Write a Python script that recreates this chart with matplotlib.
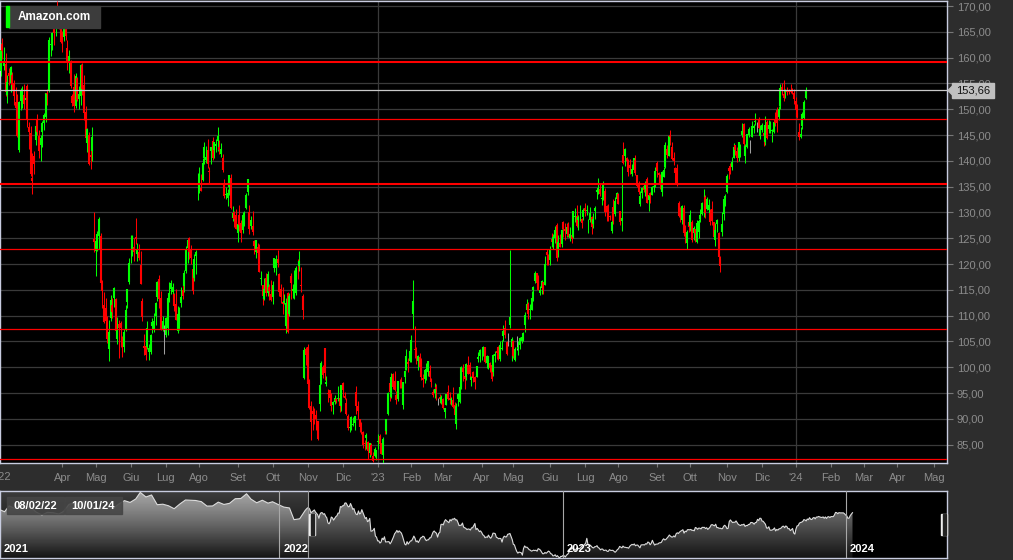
import numpy as np
import pandas as pd
import matplotlib
matplotlib.use("Agg")
import matplotlib.pyplot as plt
from matplotlib.colors import LinearSegmentedColormap
from matplotlib.patches import Rectangle, Polygon
import matplotlib.transforms as mtrans

plt.rcParams['font.family'] = ['Liberation Sans', 'DejaVu Sans']

# ---------------- data (daily OHLC, 08/02/22 .. 10/01/24) ----------------
opens = [
 157.5,162.6,158.4,158.8,152.8,157.1,155.1,156.6,155.0,151.4,152.5,142.1,151.6,151.5,
 152.7,151.8,154.5,146.5,145.4,136.6,141.0,144.0,148.0,144.8,143.1,145.5,147.3,148.5,153.2,153.6,162.4,162.9,165.5,165.6,170.0,168.8,166.0,
 164.2,164.0,168.0,161.8,159.3,159.4,152.5,154.3,150.7,156.0,152.0,152.6,158.6,154.6,149.5,143.5,145.0,141.2,142.0,124.8,
 122.5,124.0,125.5,125.5,115.6,112.0,111.5,107.5,103.5,109.5,112.1,113.4,113.2,105.5,108.3,108.6,104.5,104.0,107.5,112.7,116.6,
 122.3,121.7,123.4,125.2,122.0,122.3,119.9,112.8,104.2,104.2,103.9,103.0,103.0,108.0,107.2,110.0,113.6,117.1,113.5,107.4,106.2,
 106.3,107.6,113.9,115.2,114.6,114.1,112.2,107.0,108.2,112.5,115.0,115.7,118.6,123.2,125.0,122.7,119.0,117.3,121.6,134.9,
 135.0,134.7,136.2,140.6,140.1,142.1,138.1,142.0,143.8,142.1,142.8,143.9,142.7,141.3,140.6,135.5,133.4,132.8,134.9,136.6,128.9,130.0,129.5,
 126.0,129.5,127.9,126.6,127.7,130.9,133.9,130.1,127.4,127.4,124.4,122.4,123.4,122.5,117.1,116.0,113.3,117.2,114.4,115.6,114.1,
 113.6,119.3,119.2,121.0,118.0,115.1,112.7,112.5,107.9,114.3,110.4,117.7,114.7,113.9,114.4,119.9,119.7,116.0,113.9,97.9,103.6,
 104.0,97.3,92.5,91.5,91.95,90.8,89.5,92.9,97.9,100.0,103.7,96.8,95.0,95.5,94.4,92.6,93.2,93.8,93.9,94.0,92.5,
 97.0,94.5,93.1,90.5,88.3,89.2,88.9,89.2,95.2,92.5,89.9,88.3,87.5,85.3,86.2,85.5,83.3,85.0,82.8,82.9,83.1,
 85.5,86.6,85.3,83.0,87.5,87.6,90.9,96.9,94.2,98.7,97.3,94.7,93.9,97.6,96.9,92.6,98.2,99.5,101.1,101.2,
 102.5,110.3,103.5,102.9,101.2,102.0,101.3,97.9,97.8,98.4,99.1,99.2,97.8,95.3,95.1,96.1,93.5,94.3,93.1,
 93.9,91.4,92.7,95.2,94.1,93.6,93.7,92.7,89.0,93.8,93.2,96.1,99.8,98.4,98.1,100.5,100.4,97.6,99.1,98.1,98.1,101.6,102.2,
 102.3,102.8,103.9,100.8,101.0,100.8,100.4,99.0,102.1,103.2,104.0,101.6,103.5,106.1,107.7,104.9,105.0,108.2,104.0,
 105.0,101.5,103.7,103.6,104.3,105.0,105.2,108.1,111.0,112.2,111.1,111.0,114.9,116.7,118.2,116.8,114.3,115.4,116.6,116.0,122.4,121.5,
 120.7,124.9,123.4,125.0,127.6,123.0,124.1,123.9,128.1,126.7,125.9,127.7,125.0,125.6,125.3,129.1,129.3,128.6,128.9,128.8,129.1,
 130.8,130.2,128.3,128.6,129.1,127.8,130.3,134.0,134.1,134.6,132.7,133.4,134.1,131.3,130.3,129.3,126.5,131.0,129.7,132.7,
 133.6,130.2,128.4,141.1,141.0,140.6,140.0,139.1,137.4,138.3,140.1,137.2,135.5,131.6,133.7,135.1,134.5,136.4,132.5,133.8,133.4,134.9,135.1,
 139.5,137.7,136.3,133.9,136.9,138.8,142.3,141.0,145.1,142.7,140.5,138.7,138.6,131.9,130.3,128.5,130.9,125.8,124.0,128.2,
 127.3,128.1,126.1,126.7,124.2,126.2,128.8,129.7,132.2,133.0,130.7,130.4,129.9,130.6,128.1,124.6,127.7,126.0,121.0,126.2,129.7,132.8,
 134.0,138.7,139.0,138.8,140.6,143.0,142.0,140.5,142.1,145.0,147.1,140.9,142.7,145.1,143.9,144.6,146.4,147.5,147.0,147.9,144.8,
 146.0,145.3,143.6,147.6,146.2,145.5,145.7,145.5,148.1,149.9,148.4,150.6,154.4,152.9,153.3,153.8,153.6,153.6,153.7,153.1,
 151.5,149.2,145.6,144.7,146.7,148.3,152.1,
]
highs = [
 162.8,163.8,162.0,160.9,156.6,158.0,158.4,157.2,155.6,154.4,152.9,151.6,154.2,154.5,
 154.8,153.0,154.9,147.5,146.8,141.5,142.0,147.5,149.0,145.9,145.0,147.8,149.3,153.2,154.0,164.0,163.5,165.0,166.2,169.0,171.0,169.5,167.0,
 165.2,168.5,168.3,163.4,161.5,159.6,153.0,156.9,157.0,156.2,154.5,158.7,159.0,156.6,150.6,146.4,145.6,143.0,146.6,130.0,
 125.5,126.5,129.1,126.0,117.0,114.5,113.5,110.0,109.2,114.0,113.5,115.6,113.5,109.8,109.1,108.9,106.0,107.5,112.0,115.2,121.1,
 125.6,125.6,125.0,128.9,124.1,123.8,122.6,113.5,106.5,104.9,109.0,104.6,106.5,109.6,110.5,112.6,116.7,117.9,114.8,110.0,108.2,
 109.8,114.0,116.5,116.9,116.4,114.3,115.1,111.8,111.6,115.6,117.3,118.9,123.5,124.7,125.2,123.6,119.6,121.9,122.8,137.6,
 138.8,137.4,140.5,143.6,142.9,144.2,138.9,142.7,144.6,143.6,144.3,146.6,144.1,143.4,141.4,136.4,135.0,134.6,137.3,137.4,131.2,130.3,130.6,
 128.0,131.4,128.6,130.0,130.2,133.8,136.5,131.5,129.4,130.3,124.6,124.7,124.1,123.8,118.7,116.0,117.3,118.3,118.7,116.1,116.9,
 116.7,121.2,121.7,122.8,118.2,116.2,115.5,114.1,113.4,114.5,114.3,118.3,116.2,118.8,119.6,121.0,122.5,119.4,114.1,104.0,103.9,
 104.6,97.7,93.5,92.4,92.1,91.7,89.6,98.7,101.2,100.4,103.8,98.4,95.7,95.5,95.0,93.4,94.6,94.1,96.4,94.4,96.5,
 97.2,95.3,94.1,91.0,89.8,90.6,90.3,90.6,96.3,93.5,89.9,89.4,87.6,86.0,87.2,85.7,85.4,85.4,83.5,84.6,84.0,
 87.0,87.0,85.4,86.4,89.5,90.0,95.3,97.2,98.9,98.9,99.3,95.4,97.4,97.8,98.1,97.2,99.5,103.5,101.7,103.4,
 106.2,117.0,108.0,103.9,102.4,102.7,101.8,98.6,99.7,100.9,101.2,100.5,98.0,95.8,97.0,96.7,94.1,94.8,94.7,
 94.1,92.2,94.9,96.6,95.2,94.2,96.1,93.2,93.0,95.1,96.7,100.3,100.7,98.5,100.8,102.1,101.1,98.3,99.3,98.4,100.3,103.0,103.5,
 103.3,104.2,103.9,102.4,102.2,101.0,100.5,102.6,103.2,103.7,104.2,105.0,105.3,108.2,109.2,105.0,106.6,122.8,105.9,
 105.2,103.9,106.0,105.0,105.8,106.0,106.8,110.7,113.3,112.6,112.3,114.8,115.8,118.6,118.3,117.8,115.8,117.0,116.6,121.5,122.9,122.0,
 123.5,126.0,125.8,127.4,127.9,125.6,125.8,126.8,128.4,128.0,127.9,128.1,127.2,126.7,130.3,130.8,131.5,129.6,131.5,128.9,130.9,
 131.9,131.4,128.7,131.0,129.3,129.8,131.3,134.7,136.6,135.6,133.9,136.0,134.8,131.4,131.7,129.6,129.1,132.6,133.0,133.9,
 133.7,130.2,139.0,143.6,142.5,140.8,140.3,140.4,139.3,140.6,141.1,137.3,136.1,134.1,135.0,135.7,136.0,136.8,133.8,134.0,135.1,135.7,138.8,
 140.0,137.8,137.5,138.0,138.9,143.6,143.0,145.0,145.9,143.6,141.8,138.8,139.4,132.2,131.1,131.5,131.4,127.5,126.6,129.2,
 130.5,128.5,127.4,126.7,128.5,128.8,130.7,132.1,134.5,133.3,133.0,132.6,130.7,132.2,128.2,127.9,128.8,126.3,121.6,130.0,133.0,133.6,
 137.4,138.8,139.5,140.7,143.4,143.1,142.7,143.7,143.2,147.3,147.3,143.3,145.2,146.6,144.1,147.7,147.2,149.3,147.6,148.5,146.9,
 147.3,145.4,148.6,147.9,147.9,147.8,146.2,147.5,149.5,150.5,150.6,154.9,155.1,155.6,154.0,154.4,154.0,154.8,154.1,153.9,
 152.4,151.1,147.4,146.6,149.4,151.7,154.4,
]
lows = [
 156.5,159.8,157.6,152.6,151.2,154.7,153.4,153.8,150.9,148.2,144.6,141.7,149.8,150.2,
 150.1,148.9,146.5,142.2,137.0,133.6,137.5,143.0,145.0,140.5,140.0,142.6,146.0,147.6,150.8,153.4,160.3,161.5,162.5,164.2,166.5,165.5,162.8,
 161.0,163.2,163.5,157.6,157.0,154.1,150.6,149.5,150.3,151.5,150.0,150.8,152.8,148.0,144.1,141.7,139.2,138.4,140.0,122.4,
 117.7,122.5,123.0,115.0,111.5,108.6,106.0,104.7,101.3,109.0,109.5,111.6,106.6,104.5,101.7,104.0,102.0,103.0,107.0,111.5,116.2,
 120.3,121.5,120.6,123.8,120.6,120.7,116.1,109.0,102.4,101.4,103.5,101.4,102.6,106.7,106.8,108.2,112.8,111.5,107.3,107.0,102.5,
 105.8,106.3,112.6,114.2,113.9,110.9,109.2,106.6,107.3,111.6,113.2,114.6,118.3,120.3,121.0,120.0,114.2,116.7,118.1,132.4,
 133.8,134.1,136.0,139.4,139.6,138.7,135.6,139.3,140.1,140.6,141.8,142.0,141.4,140.8,137.9,132.8,132.7,131.2,133.3,130.6,128.4,127.1,126.7,
 124.2,126.4,124.3,126.0,127.3,130.6,133.3,125.8,126.7,125.7,121.9,121.1,120.5,118.5,115.9,112.1,113.0,113.8,113.8,113.1,112.8,
 112.3,118.4,117.8,119.4,113.9,112.4,110.4,112.2,106.7,106.6,109.9,113.2,113.4,113.2,114.0,117.1,118.6,114.6,109.4,97.7,100.5,
 96.1,92.0,85.9,87.9,89.0,87.9,86.0,91.6,96.8,97.9,97.6,96.3,93.3,92.8,91.5,90.9,92.8,93.1,93.4,91.4,91.6,
 94.3,93.8,90.8,87.9,87.4,87.9,88.6,87.9,91.0,89.9,87.5,87.0,84.3,84.0,84.2,82.3,82.7,83.0,81.7,82.7,82.1,
 84.2,83.4,83.1,81.4,87.0,87.1,90.8,93.4,94.1,95.7,95.4,92.9,93.4,95.9,96.0,91.9,96.9,99.5,99.0,101.0,
 101.0,107.5,101.8,100.7,99.4,98.8,97.6,96.2,96.9,97.5,98.4,97.8,96.1,94.3,94.0,93.7,92.7,93.1,92.9,
 91.9,90.2,92.6,93.7,92.8,92.7,92.2,89.7,88.1,92.5,93.1,95.8,97.4,95.7,97.5,98.6,98.0,96.4,97.1,95.7,98.1,101.0,101.1,
 101.4,102.1,100.8,99.8,99.6,99.0,97.4,98.4,101.1,101.6,101.5,101.2,103.3,105.1,105.6,102.4,104.1,107.6,101.2,
 101.8,101.2,103.3,102.3,103.6,104.7,105.1,106.9,110.5,109.3,109.3,111.0,112.8,116.3,115.7,114.9,114.0,114.2,114.2,116.0,119.9,119.8,
 119.9,123.3,123.0,124.1,120.6,121.4,123.3,123.4,125.2,124.6,125.2,125.3,124.5,124.0,125.1,128.2,127.1,126.6,128.4,127.0,128.6,
 129.3,129.6,126.0,128.1,125.9,126.9,128.7,132.7,133.6,133.2,131.4,132.5,129.3,128.4,128.4,128.5,126.1,127.7,129.3,132.4,
 131.6,127.6,126.4,139.3,139.0,138.4,137.1,137.5,137.0,137.8,137.2,135.0,133.5,131.2,132.8,133.9,133.2,131.8,130.2,131.9,133.3,133.9,135.0,
 136.9,135.8,134.6,133.2,136.8,138.6,140.6,140.9,143.0,140.1,139.2,135.6,135.2,129.2,128.1,127.8,125.5,124.1,123.0,126.3,
 126.5,124.3,124.7,124.3,124.1,125.0,128.1,129.6,129.2,129.0,130.4,128.7,127.5,127.5,124.9,123.5,126.3,119.9,118.4,125.5,128.6,131.2,
 133.7,136.5,137.5,138.2,140.5,141.2,139.8,139.9,140.7,144.7,142.6,139.5,142.5,144.7,141.5,144.6,145.3,146.9,145.5,146.0,144.3,
 145.6,142.8,143.1,144.3,145.3,145.4,143.6,145.3,146.8,145.5,147.9,150.1,152.7,151.6,152.1,152.7,153.0,153.1,153.0,151.0,
 148.4,148.3,144.1,144.5,146.2,148.2,151.9,
]
closes = [
 161.4,161.2,159.0,153.3,155.2,156.5,158.1,154.6,152.6,150.2,144.8,151.4,153.8,153.6,
 151.1,152.1,147.9,145.6,137.5,136.0,139.3,146.8,145.5,141.9,144.5,147.4,148.9,153.1,152.9,163.4,162.6,164.7,164.8,169.0,169.3,166.3,163.0,
 163.6,168.4,164.1,159.0,160.3,154.5,151.2,150.6,156.5,151.7,152.9,158.5,153.9,149.3,144.4,146.1,139.4,140.8,144.6,124.3,
 124.5,125.9,128.8,116.4,114.8,108.8,108.9,105.4,106.9,113.1,110.8,115.4,107.1,107.3,107.6,107.6,104.1,106.8,111.1,115.1,120.2,
 122.4,125.5,122.3,124.8,123.0,121.2,116.2,109.7,103.7,102.3,107.7,103.7,106.2,108.7,109.0,112.4,116.5,113.2,107.4,108.9,106.2,
 109.6,113.5,114.3,116.3,115.5,111.8,109.2,110.4,110.6,113.6,113.8,118.2,122.8,124.6,122.4,121.1,114.8,121.0,122.3,135.0,
 135.4,134.2,139.5,142.6,140.8,139.4,137.8,142.7,140.6,143.6,143.2,144.8,142.1,142.3,138.2,133.2,133.6,133.8,137.3,130.8,129.8,128.7,126.8,
 127.8,127.5,126.1,129.5,129.8,133.3,136.5,126.8,128.6,126.3,123.5,124.7,122.2,118.5,117.3,113.8,115.2,114.4,118.0,114.8,113.0,
 115.9,121.1,121.0,120.3,114.6,113.7,112.2,112.9,112.5,106.9,113.8,116.4,115.1,115.3,119.3,119.8,120.6,115.7,111.0,103.4,102.4,
 96.8,92.1,89.3,91.0,90.5,90.0,86.1,96.6,100.8,98.5,98.9,97.1,94.9,94.1,92.5,93.2,94.1,93.4,94.0,92.4,96.5,
 95.5,94.1,91.0,88.3,88.5,90.4,89.1,90.6,92.5,91.6,88.5,87.9,84.9,85.2,86.8,83.8,85.3,83.0,81.8,84.2,84.0,
 85.8,85.1,83.1,86.1,87.4,89.9,95.1,95.3,98.1,96.1,95.5,93.7,97.3,97.5,96.3,97.2,99.2,102.2,100.6,103.1,
 105.2,112.9,103.4,102.2,102.1,100.1,98.2,97.6,99.5,99.7,101.2,98.2,97.2,94.6,95.8,95.8,93.5,93.8,94.2,
 92.2,92.1,94.9,93.8,93.6,93.9,92.3,90.7,92.4,94.9,96.2,100.0,99.0,97.7,100.6,98.7,98.7,98.1,98.0,97.2,100.3,102.0,103.3,
 102.4,104.0,101.1,102.1,102.2,99.9,97.8,102.4,102.5,102.7,102.3,104.3,103.8,107.0,106.2,102.6,105.0,109.8,105.5,
 102.1,103.6,103.7,104.0,105.7,105.8,106.6,110.2,112.2,110.3,111.2,113.4,115.5,118.2,116.3,115.0,115.0,116.8,115.0,120.1,121.7,120.6,
 122.8,124.3,125.3,126.6,121.2,124.3,123.4,126.6,126.7,126.4,127.1,125.5,125.8,124.8,130.2,129.3,127.3,129.2,129.0,127.9,130.4,
 130.2,130.4,128.4,129.8,127.1,128.8,130.8,134.3,134.7,133.6,132.8,135.4,130.0,130.0,128.8,129.1,128.2,128.3,132.2,133.7,
 131.7,128.2,128.9,139.6,142.2,139.9,137.9,138.6,138.4,140.6,137.7,135.1,134.0,133.2,134.7,134.3,135.5,131.8,133.3,133.1,134.9,135.1,138.0,
 138.1,137.3,135.4,137.9,138.2,143.1,141.2,144.9,144.7,140.4,140.0,137.6,135.3,129.3,129.1,131.3,126.0,125.7,126.2,127.1,
 129.5,124.7,127.0,126.0,128.0,128.3,129.5,131.8,132.3,129.8,132.6,131.5,128.1,128.4,125.2,126.6,128.6,121.4,119.6,127.7,132.7,133.1,
 137.0,138.1,138.6,139.7,142.7,142.1,140.6,143.6,142.6,145.8,143.2,142.8,145.2,146.1,143.9,146.7,146.7,147.7,147.0,146.3,146.1,
 147.0,144.8,146.9,144.5,146.9,147.4,145.9,147.5,147.4,147.4,150.0,154.1,153.8,152.1,153.8,153.4,153.4,153.3,153.4,151.9,
 149.9,148.5,144.6,145.2,149.1,151.4,153.7,
]
# weekly closes before the visible window (navigator only)
hist_weeks = pd.date_range('2021-01-08', '2022-02-04', freq='W-FRI')
hist_closes = [
 159.1,155.2,164.6,160.3, 167.3,163.3,162.4,154.6, 150.0,154.3,153.6,151.6,
 155.5,167.0,169.4,170.0,173.4, 164.7,161.1,161.0,161.2, 159.9,167.5,172.9,170.0,
 175.5,186.0,178.7,181.9,166.4, 167.2,164.7,160.0,167.5, 173.9,173.5,173.1,171.3,
 164.2,164.4,170.5,166.8,168.6, 175.9,176.3,183.8,175.2, 169.5,173.5,168.9,171.1,166.7,
 162.6,161.2,142.6,144.0,157.6,
]
last_price = 153.66
red_levels_thick = [159.15, 135.51]
red_levels_thin = [148.1, 122.92, 107.42, 82.17]
title = "Amazon.com"
first_date_lbl, last_date_lbl = "08/02/22", "10/01/24"
month_names = ['Gen', 'Feb', 'Mar', 'Apr', 'Mag', 'Giu', 'Lug', 'Ago', 'Set', 'Ott', 'Nov', 'Dic']

assert len(opens) == len(highs) == len(lows) == len(closes), (len(opens), len(highs), len(lows), len(closes))
assert len(hist_closes) == len(hist_weeks), (len(hist_closes), len(hist_weeks))

# ---------------- trading calendar ----------------
holidays = ['2021-01-01', '2021-01-18', '2021-02-15', '2021-04-02', '2021-05-31', '2021-07-05', '2021-09-06',
            '2021-11-25', '2021-12-24', '2022-01-17', '2022-02-21', '2022-04-15', '2022-05-30', '2022-06-20',
            '2022-07-04', '2022-09-05', '2022-11-24', '2022-12-26', '2023-01-02', '2023-01-16', '2023-02-20',
            '2023-04-07', '2023-05-29', '2023-06-19', '2023-07-04', '2023-09-04', '2023-11-23', '2023-12-25',
            '2024-01-01', '2024-01-15', '2024-02-19', '2024-03-29', '2024-05-27', '2024-06-19']
cal = pd.bdate_range('2021-01-04', '2024-06-28', freq='C', holidays=holidays)
start = cal.get_loc(pd.Timestamp('2022-02-08'))
n = len(closes)

W, H = 1013, 560
fig = plt.figure(figsize=(W / 100, H / 100), dpi=100, facecolor='#2d2d2d')


def frect(x0, y0, x1, y1):
    return [x0 / W, 1 - y1 / H, (x1 - x0) / W, (y1 - y0) / H]


BORDER = '#c8cce0'
GRID = '#3a3a3a'
LABEL = '#8c8c8c'

# ---------------- main price chart ----------------
ax = fig.add_axes(frect(0, 1, 947, 463))
ax.set_facecolor('black')
ax.set_xlim(-0.3, 566.7)
ax.set_ylim(81.45, 170.97)

yt = np.arange(85, 171, 5)
for v in yt:
    ax.axhline(v, color=GRID, lw=0.9, zorder=1)

tick_pos, tick_lab, year_pos = [], [], []
for per in pd.period_range('2022-04', '2024-05', freq='M'):
    first = cal[(cal.year == per.year) & (cal.month == per.month)][0]
    p = cal.get_loc(first) - start
    tick_pos.append(p)
    if per.month == 1:
        tick_lab.append("'%02d" % (per.year % 100))
        year_pos.append(p)
    else:
        tick_lab.append(month_names[per.month - 1])
for p in year_pos:
    ax.axvline(p, color=GRID, lw=0.9, zorder=1)

o, h, l, c = map(np.asarray, (opens, highs, lows, closes))
x = np.arange(n)
col = np.where(c > o, '#00ff00', np.where(c < o, '#ff0000', '#a0a0a0'))
ax.vlines(x, l, h, colors=col, lw=0.75, zorder=3)
ax.vlines(x, np.minimum(o, c), np.maximum(o, c), colors=col, lw=1.5, zorder=3)

for v in red_levels_thick:
    ax.axhline(v, color='#ff0000', lw=1.5, zorder=4)
for v in red_levels_thin:
    ax.axhline(v, color='#ff0000', lw=0.9, zorder=4)
ax.axhline(last_price, color='#c8c8c8', lw=0.9, zorder=5)

ax.yaxis.tick_right()
ax.set_yticks(yt)
ax.set_yticklabels([("%.2f" % v).replace('.', ',') for v in yt])
ax.set_xticks(tick_pos)
ax.set_xticklabels(tick_lab)
ax.tick_params(axis='y', length=4, color='#777777', labelcolor=LABEL, labelsize=8, pad=3)
ax.tick_params(axis='x', length=3, color='#777777', labelcolor=LABEL, labelsize=8, pad=4)
for s in ax.spines.values():
    s.set_color(BORDER)
    s.set_linewidth(1)

# ---------------- navigator ----------------
nav = fig.add_axes(frect(0, 491, 947, 558))
nav.set_facecolor('black')
nx0, nx1 = 4.94, 842.6
ny0, ny1 = 81.6, 188.2
nav.set_xlim(nx0, nx1)
nav.set_ylim(ny0, ny1)
nav.set_xticks([])
nav.set_yticks([])
for s in nav.spines.values():
    s.set_color(BORDER)
    s.set_linewidth(1)

hist_idx = cal.searchsorted(hist_weeks, side='right') - 1
gx = np.concatenate([hist_idx, start + x]).astype(float)
gy = np.concatenate([np.asarray(hist_closes), c])

area = nav.fill_between(gx, gy, ny0, facecolor='none', edgecolor='none')
cmap = LinearSegmentedColormap.from_list('nav', ['#141414', '#8e8e8e'])
grad = np.linspace(0, 1, 256).reshape(-1, 1)
im = nav.imshow(grad, extent=[nx0, nx1, ny0, ny1], aspect='auto', cmap=cmap, origin='lower', zorder=1)
im.set_clip_path(area.get_paths()[0], transform=nav.transData)

ov_rgba = np.zeros((256, 1, 4))
ov_rgba[..., :3] = 1.0
ov_rgba[:, 0, 3] = np.linspace(0.0, 0.24, 256)
nav.imshow(ov_rgba, extent=[nx0, start, ny0, ny1], aspect='auto', origin='lower', zorder=2)
nav.plot(gx, gy, color='#dcdcdc', lw=0.8, zorder=3)
nav.axvline(start, color='#9a9a9a', lw=0.8, zorder=4)

blend = mtrans.blended_transform_factory(nav.transData, nav.transAxes)
for yr in (2021, 2022, 2023, 2024):
    g = cal.get_loc(cal[cal.year == yr][0])
    if g > nx0:
        nav.axvline(g, color='#a8a8a8', lw=0.8, zorder=4)
    nav.text(max(g, nx0) + 3.5, 0.13, str(yr), transform=blend, color='white', fontsize=8,
             fontweight='bold', ha='left', va='center', zorder=6)

# ---------------- overlay decorations (pixel coordinates) ----------------
ov = fig.add_axes([0, 0, 1, 1])
ov.set_xlim(0, W)
ov.set_ylim(H, 0)
ov.axis('off')
ov.patch.set_alpha(0)

ov.add_patch(Rectangle((9, 6), 91, 22, color='#3c3c3c'))
ov.add_patch(Rectangle((6, 6), 3, 21, color='#00ff00'))
ov.text(18, 17.5, title, color='white', fontsize=8.5, fontweight='bold', ha='left', va='center')

ov.add_patch(Polygon([(948, 90.5), (952.5, 86), (952.5, 95)], closed=True, color='#c0c0c0'))
ov.add_patch(Rectangle((952, 83), 42, 15, color='#c0c0c0'))
ov.text(973, 90.8, ("%.2f" % last_price).replace('.', ','), color='#111111', fontsize=8, ha='center', va='center')

ov.text(4, 477.5, "'22", color=LABEL, fontsize=8, ha='center', va='center')

for (bx, lbl) in ((7, first_date_lbl), (65, last_date_lbl)):
    ov.add_patch(Rectangle((bx, 497), 57, 17, color='#454545', alpha=0.9))
    ov.text(bx + 28.5, 505.8, lbl, color='white', fontsize=8, fontweight='bold', ha='center', va='center')

for hx in (309, 941):
    ov.add_patch(Rectangle((hx, 514), 6, 20.5, color='#eeeeee'))
    for k in (1.9, 3.9):
        ov.add_patch(Rectangle((hx + k, 514), 0.7, 20.5, color='#222222'))

fig.savefig('out.png', dpi=100, facecolor=fig.get_facecolor())
